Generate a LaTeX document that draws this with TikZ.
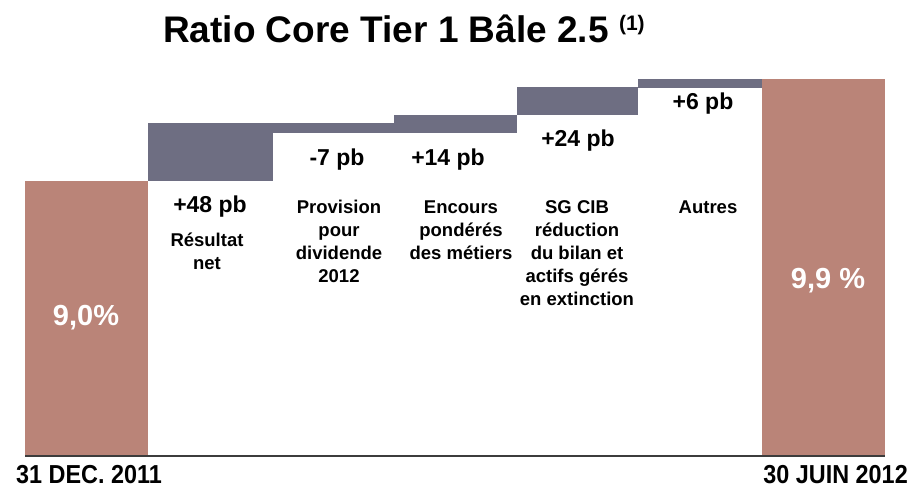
\documentclass[tikz,border=0pt]{standalone}
\usepackage{fontspec}
\setmainfont{Liberation Sans}
\newfontfamily\narrowfont[FakeStretch=0.9]{Liberation Sans}
\definecolor{barbrown}{RGB}{186,132,120}
\definecolor{bargray}{RGB}{110,110,130}
\definecolor{axisgray}{RGB}{60,60,60}
\begin{document}
\begin{tikzpicture}[x=1pt,y=-1pt,
  total/.style={fill=barbrown},
  delta/.style={fill=bargray},
  axisline/.style={draw=axisgray,line width=1.2pt},
  val/.style={font=\bfseries\fontsize{23}{28}\selectfont,inner sep=0pt,anchor=base},
  desc/.style={font=\bfseries\fontsize{18.5}{23}\selectfont,inner sep=0pt,anchor=north,align=center},
  big/.style={font=\bfseries\fontsize{29}{34}\selectfont,text=white,inner sep=0pt,anchor=base},
  datelbl/.style={font=\narrowfont\bfseries\fontsize{26}{30}\selectfont,inner sep=0pt}
]
\useasboundingbox (0,0) rectangle (912,488);
\fill[white] (0,0) rectangle (912,488);

% title
\node[font=\bfseries\fontsize{37}{42}\selectfont,inner sep=0pt,anchor=base west] (title) at (163,42)
  {Ratio Core Tier 1 Bâle 2.5 \raisebox{11.4pt}{\fontsize{21}{24}\selectfont(1)}};

% bars
\fill[total] (25,181) rectangle (148,456);
\fill[delta] (148,123) rectangle (273,181);
\fill[delta] (273,123) rectangle (394,133);
\fill[delta] (394,115) rectangle (517,133);
\fill[delta] (517,87) rectangle (638,115);
\fill[delta] (638,79) rectangle (762,88);
\fill[total] (762,79) rectangle (885,456);
\draw[axisline] (25,456) -- (885,456);

% values
\node[val] (v1) at (210,212) {+48 pb};
\node[val] (v2) at (337,165) {-7 pb};
\node[val] (v3) at (448,165) {+14 pb};
\node[val] (v4) at (578,146) {+24 pb};
\node[val] (v5) at (703,109) {+6 pb};

% descriptions
\node[desc] (d1) at (207,230) {\strut Résultat\\net};
\node[desc] (d2) at (339,197.5) {\strut Provision\\pour\\dividende\\2012};
\node[desc] (d3) at (461,197.5) {\strut Encours\\pondérés\\des métiers};
\node[desc] (d4) at (577,197.5) {\strut SG CIB\\réduction\\du bilan et\\actifs gérés\\en extinction};
\node[desc] (d5) at (708,197.5) {\strut Autres};

% totals
\node[big] (t1) at (86,325) {9,0\%};
\node[big] (t2) at (828,288) {9,9 \%};

% dates
\node[datelbl,anchor=base west] (date1) at (16,483) {31 DEC. 2011};
\node[datelbl,anchor=base east] (date2) at (908,483) {30 JUIN 2012};
\end{tikzpicture}
\end{document}
